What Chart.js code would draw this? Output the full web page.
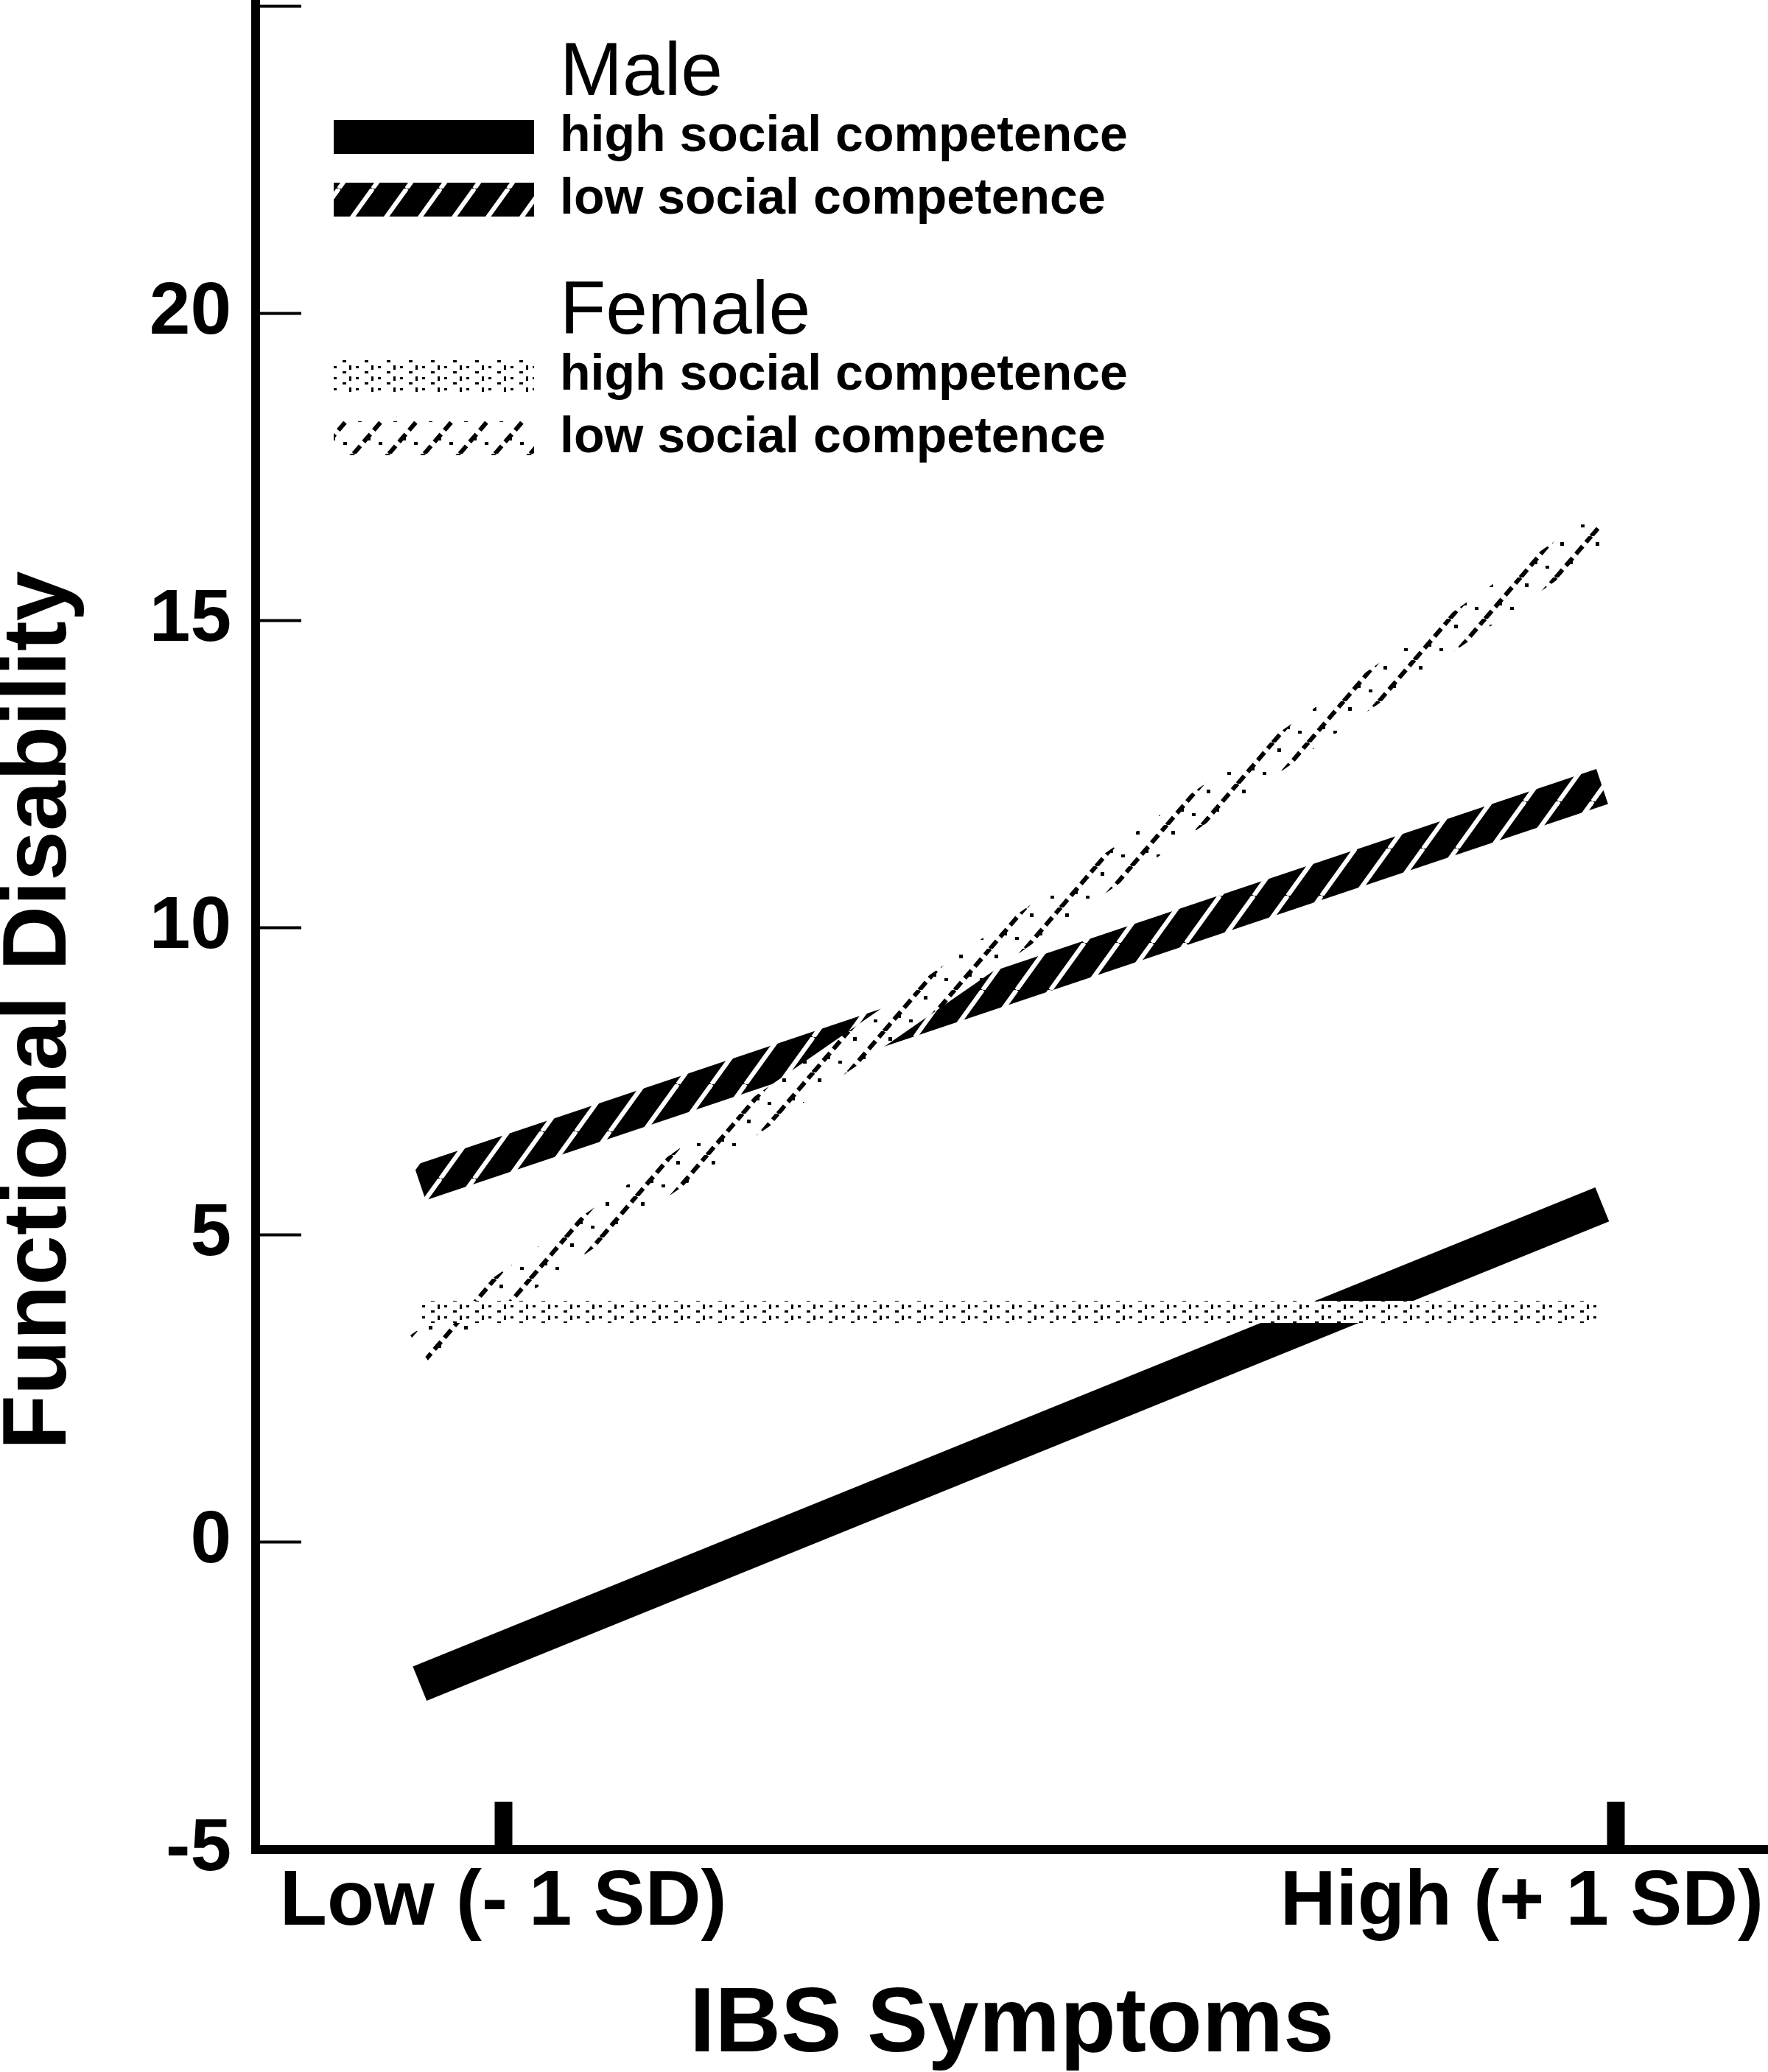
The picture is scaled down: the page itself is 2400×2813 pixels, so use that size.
<!DOCTYPE html>
<html>
<head>
<meta charset="utf-8">
<title>Functional Disability by IBS Symptoms</title>
<script src="https://cdn.jsdelivr.net/npm/chart.js@4.4.0/dist/chart.umd.min.js"></script>
<style>
  html, body { margin: 0; padding: 0; background: #fff; }
  #wrap { width: 2400px; height: 2813px; }
</style>
</head>
<body>
<div id="wrap"><canvas id="chart" width="2400" height="2813"></canvas></div>
<script>
// where the simple slopes start and end on the IBS symptom axis (SD units)
const symptomLevels = [-1.15, 0.975];
const xTickValues = [-1, 1];
const xTickLabels = ['Low (- 1 SD)', 'High (+ 1 SD)'];
const yTickValues = [-5, 0, 5, 10, 15, 20, 25];

// functional disability at each end of the slope
const maleHigh = [-2.3, 5.5];
const maleLow = [5.85, 12.3];
const femaleHigh = [3.75, 3.75];
const femaleLow = [3.15, 16.5];

const FONT = '"Liberation Sans", Arial, sans-serif';

// hatch fills for the thick bands
function makePattern(w, h, paint) {
    const c = document.createElement('canvas');
    c.width = w; c.height = h;
    const g = c.getContext('2d');
    paint(g, w, h);
    return g.createPattern(c, 'repeat');
}

const solidBlack = '#000';
const blackHatch = makePattern(46, 64, (g, w, h) => {
    g.fillStyle = '#000'; g.fillRect(0, 0, w, h);
    g.strokeStyle = '#fff'; g.lineWidth = 6;
    for (const k of [-1, 0, 1]) {
        g.beginPath(); g.moveTo(k * w, h); g.lineTo(k * w + w, 0); g.stroke();
    }
});
const dotted = makePattern(30, 15, (g, w, h) => {
    g.fillStyle = '#fff'; g.fillRect(0, 0, w, h);
    g.fillStyle = '#000';
    g.fillRect(3, 2, 4, 3);
    g.fillRect(15, 9, 5, 3);
    g.fillRect(24, 1, 3, 6);
});
const lightHatch = makePattern(48, 56, (g, w, h) => {
    g.fillStyle = '#fff'; g.fillRect(0, 0, w, h);
    g.strokeStyle = '#000'; g.lineWidth = 6;
    g.setLineDash([14, 7]);
    for (const k of [-1, 0, 1]) {
        g.beginPath(); g.moveTo(k * w, h); g.lineTo(k * w + w, 0); g.stroke();
    }
    g.fillStyle = '#000';
    g.fillRect(6, 8, 5, 5);
    g.fillRect(34, 40, 5, 4);
    g.fillRect(20, 30, 3, 8);
});

function toPoints(vals) {
    return vals.map((v, i) => ({ x: symptomLevels[i], y: v }));
}

// group legend drawn in the upper left of the plot
const groupLegend = {
    id: 'groupLegend',
    afterDraw(chart) {
        const ctx = chart.ctx;
        ctx.save();
        ctx.textBaseline = 'alphabetic';
        ctx.textAlign = 'left';
        let y = 129;
        ['Male', 'Female'].forEach(group => {
            ctx.fillStyle = '#000';
            ctx.font = '102px ' + FONT;
            ctx.fillText(group, 760, y);
            y += 76;
            chart.data.datasets.filter(d => d.group === group).forEach(d => {
                ctx.fillStyle = d.borderColor;
                ctx.fillRect(453, y - 42, 272, 46);
                ctx.fillStyle = '#000';
                ctx.font = 'bold 68px ' + FONT;
                ctx.fillText(d.label, 760, y);
                y += 85;
            });
            y += 78;
        });
        ctx.restore();
    }
};

// x tick labels (kept inside the canvas) and the y axis title
const axisText = {
    id: 'axisText',
    afterDraw(chart) {
        const ctx = chart.ctx;
        const xs = chart.scales.x;
        ctx.save();
        ctx.fillStyle = '#000';
        ctx.textBaseline = 'middle';
        ctx.textAlign = 'center';
        ctx.font = 'bold 105px ' + FONT;
        xTickValues.forEach((v, i) => {
            const w = ctx.measureText(xTickLabels[i]).width;
            const px = Math.min(xs.getPixelForValue(v), chart.width - 6 - w / 2);
            ctx.fillText(xTickLabels[i], px, chart.chartArea.bottom + 73);
        });
        ctx.translate(55, 1372);
        ctx.rotate(-Math.PI / 2);
        ctx.font = 'bold 122px ' + FONT;
        ctx.fillText('Functional Disability', 0, 0);
        ctx.restore();
    }
};

new Chart(document.getElementById('chart'), {
    type: 'line',
    data: {
        datasets: [
            { label: 'high social competence', group: 'Male', data: toPoints(maleHigh),
              borderColor: solidBlack, borderWidth: 50, order: 1 },
            { label: 'low social competence', group: 'Male', data: toPoints(maleLow),
              borderColor: blackHatch, borderWidth: 50, order: 1 },
            { label: 'high social competence', group: 'Female', data: toPoints(femaleHigh),
              borderColor: dotted, borderWidth: 30, order: 0 },
            { label: 'low social competence', group: 'Female', data: toPoints(femaleLow),
              borderColor: lightHatch, borderWidth: 45, order: 0 }
        ]
    },
    options: {
        responsive: false,
        devicePixelRatio: 1,
        animation: false,
        layout: { padding: 0 },
        elements: {
            point: { radius: 0 },
            line: { tension: 0, borderCapStyle: 'butt', fill: false }
        },
        plugins: { legend: { display: false }, tooltip: { enabled: false } },
        scales: {
            x: {
                type: 'linear',
                min: -1.445,
                max: 1.273,
                afterBuildTicks: s => { s.ticks = xTickValues.map(v => ({ value: v })); },
                ticks: { display: false },
                grid: { drawOnChartArea: false, drawTicks: true, tickLength: -65,
                        tickWidth: 24, tickColor: '#000' },
                border: { display: true, width: 12, color: '#000' },
                title: { display: true, text: 'IBS Symptoms', color: '#000', padding: 0,
                         font: { family: FONT, size: 124, weight: 'bold', lineHeight: 1 } },
                afterFit: s => { s.height = 302; s.paddingLeft = 0; s.paddingRight = 0; }
            },
            y: {
                type: 'linear',
                min: -5,
                max: 25.1,
                afterBuildTicks: s => { s.ticks = yTickValues.map(v => ({ value: v })); },
                ticks: {
                    color: '#000',
                    padding: 95,
                    font: { family: FONT, size: 100, weight: 'bold' },
                    callback: v => (v === 25 ? '' : String(v))
                },
                grid: { drawOnChartArea: false, drawTicks: true, tickLength: -62,
                        tickWidth: 4, tickColor: '#000' },
                border: { display: true, width: 12, color: '#000' },
                afterFit: s => { s.width = 347; s.paddingTop = 0; s.paddingBottom = 0; }
            }
        }
    },
    plugins: [groupLegend, axisText]
});
</script>
</body>
</html>
